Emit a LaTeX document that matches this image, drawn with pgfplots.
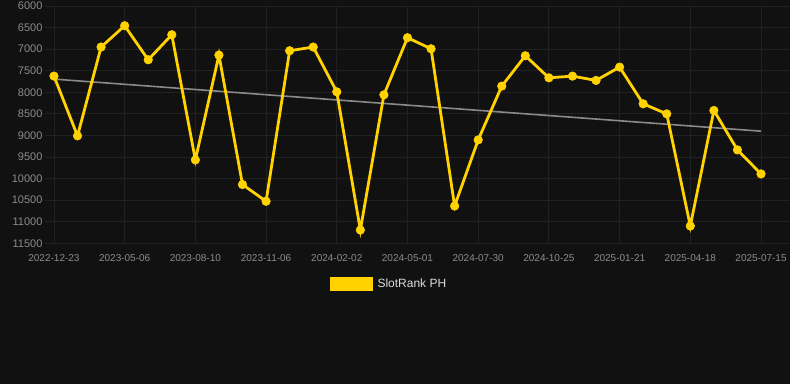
\documentclass[border=0pt]{standalone}
\usepackage{pgfplots}
\pgfplotsset{compat=1.18}
\usepackage{fontspec}
\setmainfont{Liberation Sans}
\definecolor{bg}{HTML}{111111}
\definecolor{gridc}{HTML}{212121}
\definecolor{tickc}{HTML}{8C8C8C}
\definecolor{lineY}{HTML}{FFD200}
\definecolor{trend}{HTML}{8A8A8A}
\definecolor{legtext}{HTML}{DDDDDD}
\begin{document}
\begin{tikzpicture}
\useasboundingbox (0pt,0pt) rectangle (790pt,384pt);
\fill[bg] (0pt,0pt) rectangle (790pt,384pt);
\begin{axis}[
  at={(45pt,140.7pt)}, anchor=south west,
  scale only axis, width=745pt, height=237.3pt,
  xmin=-0.38, xmax=31.23, ymin=6000, ymax=11500, y dir=reverse,
  axis line style={draw=none},
  tick style={draw=none},
  grid=major, major grid style={gridc, line width=0.8pt},
  xtick={0,3,...,30},
  xticklabels={2022-12-23,2023-05-06,2023-08-10,2023-11-06,2024-02-02,2024-05-01,2024-07-30,2024-10-25,2025-01-21,2025-04-18,2025-07-15},
  ytick={6000,6500,...,11500},
  scaled y ticks=false,
  /pgf/number format/assume math mode=true,
  /pgf/number format/set thousands separator={},
  yticklabel style={font=\fontsize{11}{13}\selectfont, text=tickc, xshift=1pt},
  xticklabel style={font=\fontsize{10}{12}\selectfont, text=tickc, yshift=-8pt},
  legend style={at={(0.4617,-0.1715)}, anchor=center, draw=none, fill=none,
    font=\fontsize{12}{14}\selectfont, text=legtext},
  legend image code/.code={\fill[lineY] (0pt,-5.5pt) rectangle (40pt,5.5pt);},
]
\addplot[trend, line width=1.6pt, forget plot] coordinates {(0,7694) (30,8901)};
\addplot[lineY, line width=2.8pt, mark=*, mark size=4.3pt,
  mark options={fill=lineY, draw=lineY, line width=0.5pt}] coordinates {
(0,7624) (1,9010) (2,6951) (3,6457) (4,7246) (5,6666) (6,9567) (7,7137)
(8,10138) (9,10526) (10,7037) (11,6951) (12,7989) (13,11192) (14,8058)
(15,6735) (16,6991) (17,10635) (18,9103) (19,7857) (20,7153) (21,7664)
(22,7625) (23,7725) (24,7416) (25,8267) (26,8500) (27,11099) (28,8421)
(29,9335) (30,9892)};
\addlegendentry{\hspace{3pt}SlotRank PH}
\end{axis}
\end{tikzpicture}
\end{document}
